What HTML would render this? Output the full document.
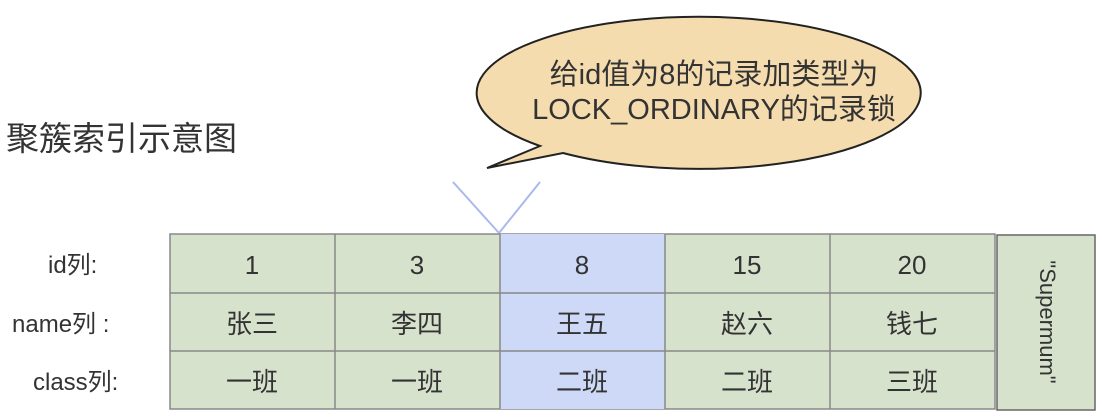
<!DOCTYPE html>
<html><head><meta charset="utf-8"><style>
body{margin:0;width:1102px;height:418px;background:#fff;overflow:hidden;position:relative;font-family:"Liberation Sans","Noto Sans CJK SC",sans-serif;color:#333}
.a{position:absolute;white-space:nowrap}
</style></head><body>
<svg class="a" style="left:0;top:0" width="1102" height="418">
<path d="M 540 146 A 222 76 0 1 1 563 153 L 487 168 Z" fill="#f5dcae" stroke="#222" stroke-width="2"/>
<line x1="453" y1="182" x2="499" y2="233" stroke="#aab8ee" stroke-width="2"/>
<line x1="540" y1="182" x2="499" y2="233" stroke="#aab8ee" stroke-width="2"/>
<rect x="170" y="234" width="825" height="175" fill="#d7e2cd" stroke="#888" stroke-width="1.5"/>
<rect x="500" y="234" width="165" height="175" fill="#cdd9f6"/>
<g stroke="#888" stroke-width="1.5">
<line x1="335" y1="234" x2="335" y2="409"/><line x1="500" y1="234" x2="500" y2="409"/>
<line x1="665" y1="234" x2="665" y2="409"/><line x1="830" y1="234" x2="830" y2="409"/>
<line x1="170" y1="293" x2="995" y2="293"/><line x1="170" y1="351" x2="995" y2="351"/>
</g>
<rect x="997" y="235" width="98" height="175" fill="#d7e2cd" stroke="#666" stroke-width="1.5"/>
<text x="1046" y="322" transform="rotate(90 1046 322)" text-anchor="middle" dominant-baseline="middle" font-size="22" fill="#333" font-family="Liberation Sans, sans-serif">"Supermum"</text>
<g font-size="26" text-anchor="middle" fill="#333" font-family="Liberation Sans, Noto Sans CJK SC, sans-serif">
<text x="252" y="274">1</text><text x="417" y="274">3</text><text x="582" y="274">8</text><text x="747" y="274">15</text><text x="912" y="274">20</text>
<text x="252" y="333">张三</text><text x="417" y="333">李四</text><text x="582" y="333">王五</text><text x="747" y="333">赵六</text><text x="912" y="333">钱七</text>
<text x="252" y="391">一班</text><text x="417" y="391">一班</text><text x="582" y="391">二班</text><text x="747" y="391">二班</text><text x="912" y="391">三班</text>
<text x="714" y="84" font-size="29">给id值为8的记录加类型为</text>
<text x="714" y="119" font-size="29">LOCK_ORDINARY的记录锁</text>
</g>
<g font-size="24" fill="#333" font-family="Liberation Sans, Noto Sans CJK SC, sans-serif">
<text x="6" y="150" font-size="33">聚簇索引示意图</text>
<text x="48" y="273">id列:</text>
<text x="12" y="332">name列 :</text>
<text x="33" y="390">class列:</text>
</g>
</svg>
</body></html>
